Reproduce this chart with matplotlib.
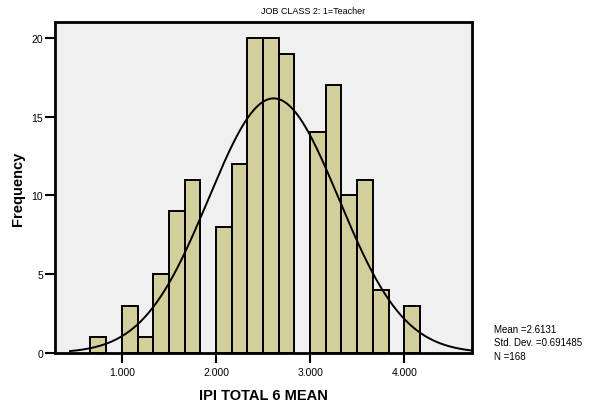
import numpy as np
import matplotlib
matplotlib.use("Agg")
import matplotlib.pyplot as plt

plt.rcParams['font.family'] = ['Liberation Sans', 'DejaVu Sans']

# Histogram data (bin width 1/6)
bin_edges_left = [4/6, 5/6, 6/6, 7/6, 8/6, 9/6, 10/6, 11/6, 12/6, 13/6, 14/6,
                  15/6, 16/6, 17/6, 18/6, 19/6, 20/6, 21/6, 22/6, 23/6, 24/6]
counts = [1, 0, 3, 1, 5, 9, 11, 0, 8, 12, 20, 20, 19, 0, 14, 17, 10, 11, 4, 0, 3]
bin_width = 1/6

mean_val = 2.6131
std_val = 0.691485
n_val = 168

xticks = [1.0, 2.0, 3.0, 4.0]
xtick_labels = ["1.000", "2.000", "3.000", "4.000"]
yticks = [0, 5, 10, 15, 20]

fig = plt.figure(figsize=(5.97, 4.10), dpi=100)
ax = fig.add_axes([55/597, 1 - 354/410, (472-55)/597, (354-23)/410])
ax.set_facecolor('#F0F0F0')

for left, c in zip(bin_edges_left, counts):
    if c > 0:
        ax.bar(left, c, width=bin_width, align='edge', color='#D3CF9C',
               edgecolor='black', linewidth=1.4, zorder=2)

xs = np.linspace(0.45, 4.75, 400)
ys = n_val * bin_width / (std_val * np.sqrt(2 * np.pi)) * np.exp(-0.5 * ((xs - mean_val) / std_val) ** 2)
ax.plot(xs, ys, color='black', linewidth=1.4, zorder=3)

ax.set_xlim(0.29, 4.72)
ax.set_ylim(0, 21)
ax.set_xticks(xticks)
ax.set_xticklabels(xtick_labels)
ax.set_yticks(yticks)
for s in ax.spines.values():
    s.set_linewidth(2)
ax.tick_params(axis='both', direction='out', length=7.5, width=1.5, labelsize=7.5, colors='black')
ax.tick_params(axis='y', pad=1)
ax.tick_params(axis='x', pad=2.5)

ax.set_xlabel('IPI TOTAL 6 MEAN', fontsize=10.5, fontweight='bold')
ax.set_ylabel('Frequency', fontsize=10.5, fontweight='bold')
ax.xaxis.set_label_coords((263 - 55) / 417, (354 - 396) / 331)
ax.xaxis.label.set_va('center')
ax.yaxis.set_label_coords((18 - 55) / 417, 0.5)
ax.yaxis.label.set_va('center')

fig.text(313/597, 1 - 12/410, 'JOB CLASS 2: 1=Teacher', fontsize=6.5, ha='center', va='center')
fig.text(494/597, 1 - 330/410, 'Mean =2.6131', fontsize=7, ha='left', va='center')
fig.text(494/597, 1 - 343/410, 'Std. Dev. =0.691485', fontsize=7, ha='left', va='center')
fig.text(494/597, 1 - 357/410, 'N =168', fontsize=7, ha='left', va='center')

fig.savefig('out.png', dpi=100)
